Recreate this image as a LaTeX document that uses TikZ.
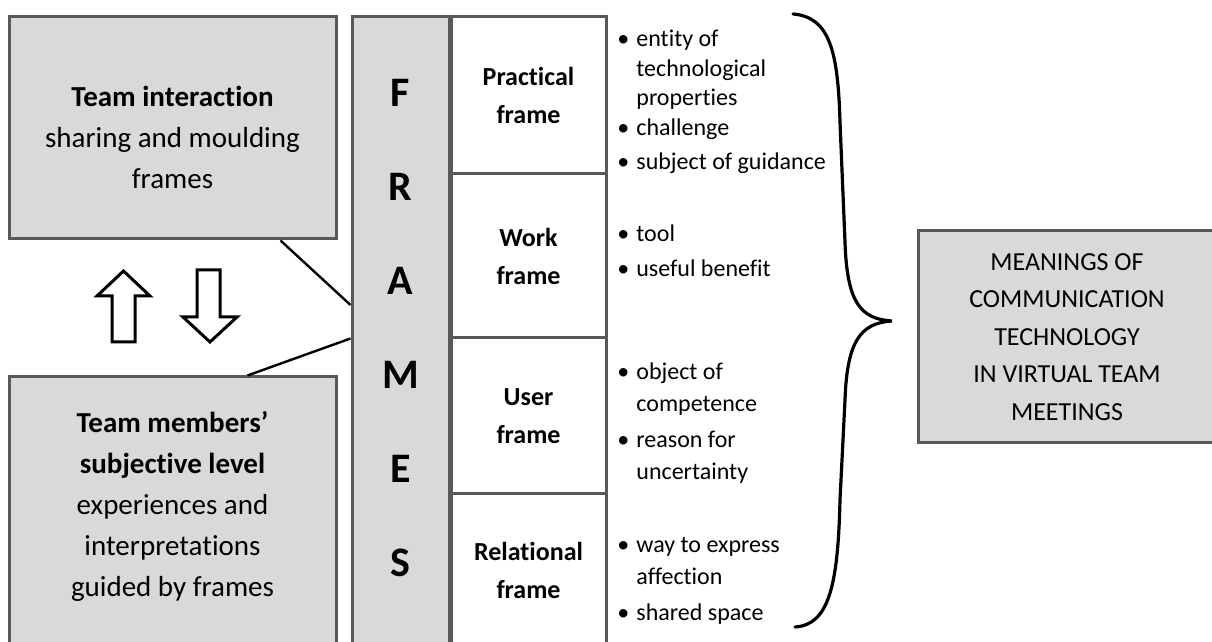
\documentclass[tikz,border=0pt]{standalone}
\usepackage{fontspec}
\setmainfont{Carlito}[Ligatures=NoCommon]
\usepackage{tikz}
\usetikzlibrary{positioning}
\definecolor{boxgray}{RGB}{217,217,217}
\definecolor{edgegray}{RGB}{89,89,89}
\newcommand{\itembul}{\makebox[9.5pt][l]{\textbullet}}
\newcommand{\itemgap}{\hspace*{9.5pt}}

\begin{document}
\begin{tikzpicture}[
    x=0.5pt, y=0.5pt,
    graybox/.style={rectangle, draw=edgegray, fill=boxgray, line width=1.5pt},
    boxtext/.style={inner sep=0pt, align=center, font=\fontsize{14.5}{20.5}\selectfont},
    framebox/.style={rectangle, draw=edgegray, fill=white, line width=1.5pt, outer sep=0pt, minimum width=77.5pt, align=center, font=\fontsize{13}{19}\selectfont\bfseries},
    bullets/.style={inner sep=0pt, align=left, font=\fontsize{12}{16}\selectfont},
    link/.style={line width=1.2pt},
    blockarrow/.style={line width=1.5pt, fill=white, line join=miter},
    brace/.style={line width=1.6pt, line cap=round}
]

% canvas
\useasboundingbox (0,0) rectangle (1212,642);
\clip (0,0) rectangle (1212,642);
\fill[white] (0,0) rectangle (1212,642);

% Left boxes
\node[graybox, minimum width=163.5pt, minimum height=111pt] (teamint) at (172.5,514) {};
\node[boxtext, below=35pt of teamint.north] (teamintlbl) {\textbf{Team interaction}\\sharing and moulding\\frames};

\node[graybox, minimum width=163.5pt, minimum height=135.5pt] (members) at (172.5,129.5) {};
\node[boxtext, below=18pt of members.north] (memberslbl) {\textbf{Team members’}\\\textbf{subjective level}\\experiences and\\interpretations\\guided by frames};

% FRAMES column
\node[graybox, minimum width=48.5pt, minimum height=315.5pt] (frames) at (400.5,309.5) {};
\node[inner sep=0pt, align=center, font=\fontsize{21}{47}\selectfont\bfseries, below=31.5pt of frames.north] (frameslbl) {F\\R\\A\\M\\E\\S};

% Frame boxes
\node[framebox, minimum height=78.5pt] (practical) at (528.5,546.5) {Practical\\frame};
\node[framebox, minimum height=82pt, below=0pt of practical] (work) {Work\\frame};
\node[framebox, minimum height=78pt, below=0pt of work] (user) {User\\frame};
\node[framebox, minimum height=76pt, below=0pt of user] (relational) {Relational\\frame};

% Meanings per frame
\node[bullets, font=\fontsize{12}{14.75}\selectfont, below right=6.5pt and 5.5pt of practical.north east] (practicallist) {\itembul entity of\\\itemgap technological\\\itemgap properties\\\itembul challenge\\[2.5pt]\itembul subject of guidance};
\node[bullets, below right=25pt and 5.5pt of work.north east] (worklist) {\itembul tool\\[1.5pt]\itembul useful benefit};
\node[bullets, below right=12pt and 5.5pt of user.north east] (userlist) {\itembul object of\\\itemgap competence\\[2pt]\itembul reason for\\\itemgap uncertainty};
\node[bullets, below right=21.3pt and 5.5pt of relational.north east] (relationallist) {\itembul way to express\\\itemgap affection\\[2pt]\itembul shared space};

% Links to the column
\draw[link] ([xshift=-28.5pt]teamint.south east) -- ([yshift=13.75pt]frames.west);
\draw[link] ([yshift=-3pt]frames.west) -- ([xshift=-45pt]members.north east);

% Up and down arrows
\draw[blockarrow] (123.5,371) -- (150,346) -- (135,346) -- (135,300) -- (112,300) -- (112,346) -- (97,346) -- cycle;
\draw[blockarrow] (197,372) -- (220,372) -- (220,325) -- (237,325) -- (210,300) -- (183,325) -- (197,325) -- cycle;

% Brace
\draw[brace] (793,628) .. controls (830,625) and (838,590) .. (840,520) -- (845,400) .. controls (847,340) and (860,323) .. (892,321) .. controls (860,319) and (847,300) .. (845,242) -- (840,142) .. controls (838,60) and (830,17) .. (795,15);

% Result box
\node[graybox, minimum width=149pt, minimum height=106pt, align=center, font=\fontsize{13}{18.75}\selectfont] (meanings) at (1067,305) {MEANINGS OF\\COMMUNICATION\\TECHNOLOGY\\IN VIRTUAL TEAM\\MEETINGS};

\end{tikzpicture}
\end{document}
